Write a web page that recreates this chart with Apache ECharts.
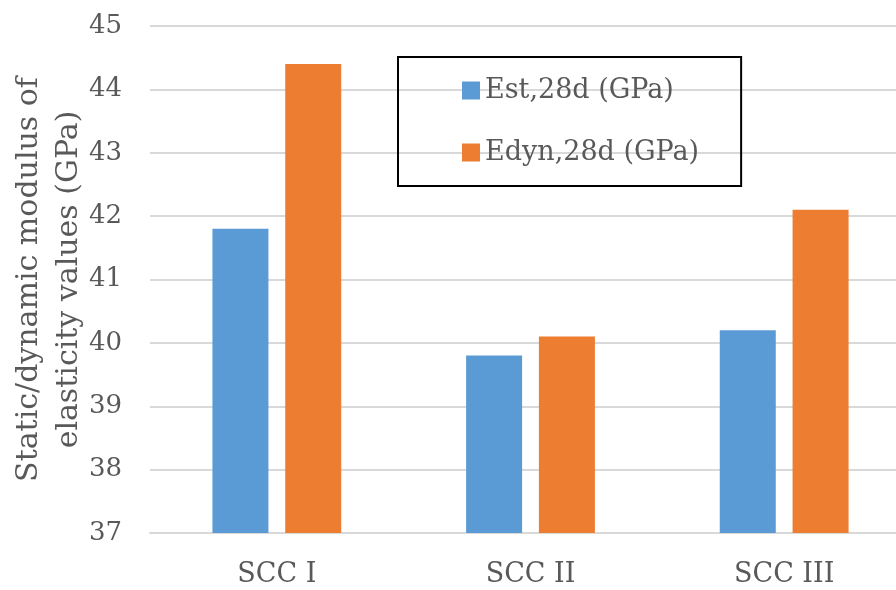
<!DOCTYPE html>
<html><head><meta charset="utf-8">
<script src="https://cdn.jsdelivr.net/npm/echarts@6/dist/echarts.min.js"></script>
<style>html,body{margin:0;padding:0;background:#fff}#c{width:896px;height:590px}</style>
</head><body><div id="c"></div>
<script>
const categories = ['SCC I', 'SCC II', 'SCC III'];
const estValues = [41.8, 39.8, 40.2];
const edynValues = [44.4, 40.1, 42.1];
const seriesNames = ['Est,28d (GPa)', 'Edyn,28d (GPa)'];
const yMin = 37, yMax = 45, yStep = 1;

const FONT = 'DejaVu Serif';
const TXT = '#595959';
const chart = echarts.init(document.getElementById('c'), null, {renderer: 'canvas'});
chart.setOption({
  animation: false,
  backgroundColor: '#fff',
  textStyle: {fontFamily: FONT},
  grid: {left: 150, top: 26, height: 507, width: 761, containLabel: false, outerBoundsMode: 'none'},
  legend: {
    orient: 'vertical', left: 398, top: 57,
    padding: [20, 42, 20, 64],
    itemGap: 35, itemWidth: 18, itemHeight: 18,
    borderColor: '#000', borderWidth: 2,
    textStyle: {fontFamily: FONT, fontSize: 27, color: TXT},
    icon: 'rect',
    data: seriesNames
  },
  xAxis: {
    type: 'category', data: categories,
    axisLine: {show: true, lineStyle: {color: '#D9D9D9', width: 2}},
    axisTick: {show: false},
    axisLabel: {fontFamily: FONT, fontSize: 27, color: TXT, margin: 28}
  },
  yAxis: {
    type: 'value', min: yMin, max: yMax, interval: yStep,
    name: 'Static/dynamic modulus of\nelasticity values (GPa)',
    nameLocation: 'middle', nameGap: 61, nameMoveOverlap: false,
    nameTextStyle: {fontFamily: FONT, fontSize: 30, color: TXT, lineHeight: 40},
    axisLine: {show: false}, axisTick: {show: false},
    splitLine: {lineStyle: {color: '#D9D9D9', width: 2}},
    axisLabel: {fontFamily: FONT, fontSize: 26, color: TXT, margin: 28}
  },
  series: [
    {name: seriesNames[0], type: 'bar', data: estValues, barWidth: 56, barGap: '30%', itemStyle: {color: '#5B9BD5'}},
    {name: seriesNames[1], type: 'bar', data: edynValues, barWidth: 56, barGap: '30%', itemStyle: {color: '#ED7D31'}}
  ]
});
</script></body></html>
